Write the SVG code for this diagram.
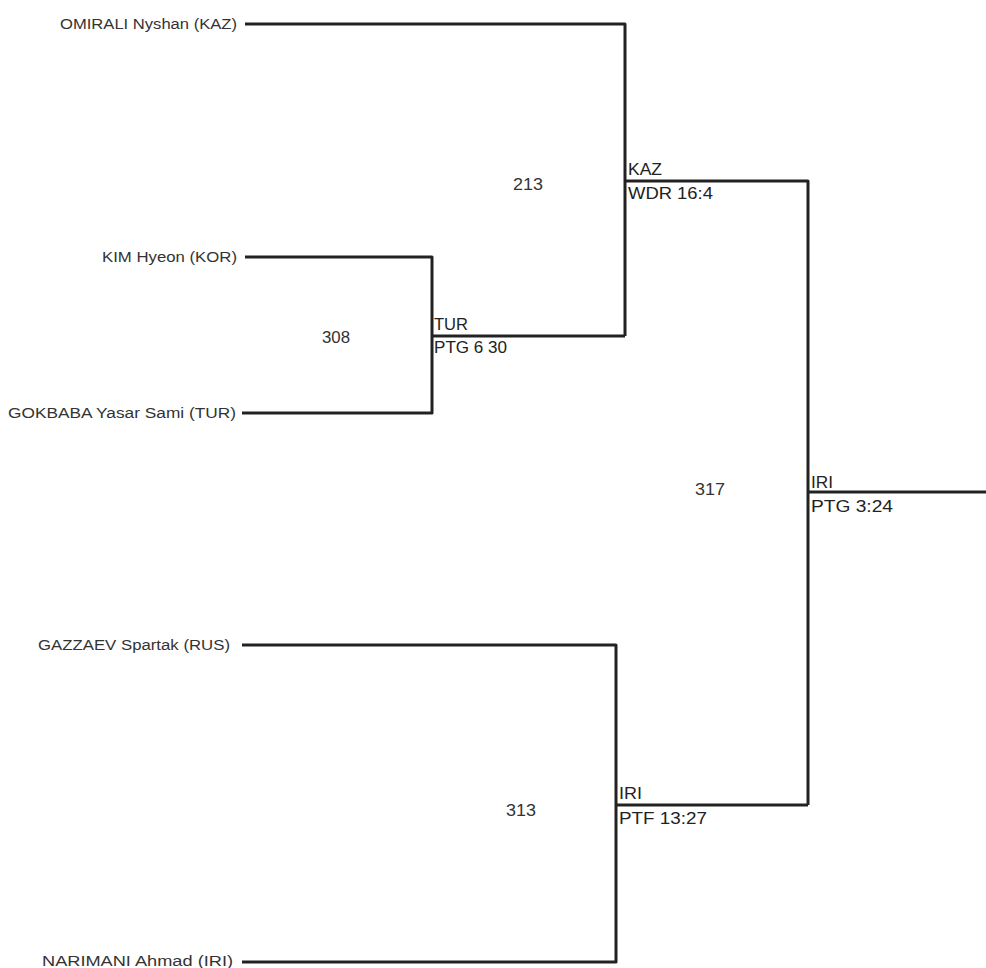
<svg xmlns="http://www.w3.org/2000/svg" width="986" height="968" viewBox="0 0 986 968">
<style>
.name{font-family:"Liberation Sans",Arial,sans-serif;font-size:14px;fill:#333;text-anchor:end}
.lbl{font-family:"Liberation Sans",Arial,sans-serif;font-size:17px;fill:#222}
.num{font-family:"Liberation Sans",Arial,sans-serif;font-size:16px;fill:#333}
.ln{fill:none;stroke:#222;stroke-width:3;stroke-linejoin:round}
</style>
<rect width="986" height="968" fill="#fff"/>
<g id="connectors">
<path class="ln" d="M245 24 H625 V336"/>
<path class="ln" d="M245 257 H432 V413 H242"/>
<path class="ln" d="M432 336 H625"/>
<path class="ln" d="M625 181 H808 V805"/>
<path class="ln" d="M242 645 H616 V962 H242"/>
<path class="ln" d="M616 805 H808"/>
<path class="ln" d="M808 492 H986"/>
</g>
<g id="p-omirali"><text class="name" x="237" y="29" textLength="177" lengthAdjust="spacingAndGlyphs">OMIRALI Nyshan (KAZ)</text></g>
<g id="p-kim"><text class="name" x="237" y="262" textLength="135" lengthAdjust="spacingAndGlyphs">KIM Hyeon (KOR)</text></g>
<g id="p-gokbaba"><text class="name" x="236" y="418" textLength="228" lengthAdjust="spacingAndGlyphs">GOKBABA Yasar Sami (TUR)</text></g>
<g id="p-gazzaev"><text class="name" x="230" y="650" textLength="192" lengthAdjust="spacingAndGlyphs">GAZZAEV Spartak (RUS)</text></g>
<g id="p-narimani"><text class="name" x="233" y="966" textLength="191" lengthAdjust="spacingAndGlyphs">NARIMANI Ahmad (IRI)</text></g>
<g id="m308">
<text class="num" x="322" y="343" textLength="28" lengthAdjust="spacingAndGlyphs">308</text>
<text class="lbl" x="434" y="330" textLength="34" lengthAdjust="spacingAndGlyphs">TUR</text>
<text class="lbl" x="434" y="353" textLength="73" lengthAdjust="spacingAndGlyphs">PTG 6 30</text>
</g>
<g id="m213">
<text class="num" x="513" y="190" textLength="30" lengthAdjust="spacingAndGlyphs">213</text>
<text class="lbl" x="628" y="175" textLength="34" lengthAdjust="spacingAndGlyphs">KAZ</text>
<text class="lbl" x="628" y="199" textLength="85" lengthAdjust="spacingAndGlyphs">WDR 16:4</text>
</g>
<g id="m313">
<text class="num" x="506" y="816" textLength="30" lengthAdjust="spacingAndGlyphs">313</text>
<text class="lbl" x="619" y="799" textLength="23" lengthAdjust="spacingAndGlyphs">IRI</text>
<text class="lbl" x="619" y="824" textLength="88" lengthAdjust="spacingAndGlyphs">PTF 13:27</text>
</g>
<g id="m317">
<text class="num" x="695" y="495" textLength="30" lengthAdjust="spacingAndGlyphs">317</text>
<text class="lbl" x="811" y="488" textLength="22" lengthAdjust="spacingAndGlyphs">IRI</text>
<text class="lbl" x="811" y="512" textLength="82" lengthAdjust="spacingAndGlyphs">PTG 3:24</text>
</g>
</svg>
